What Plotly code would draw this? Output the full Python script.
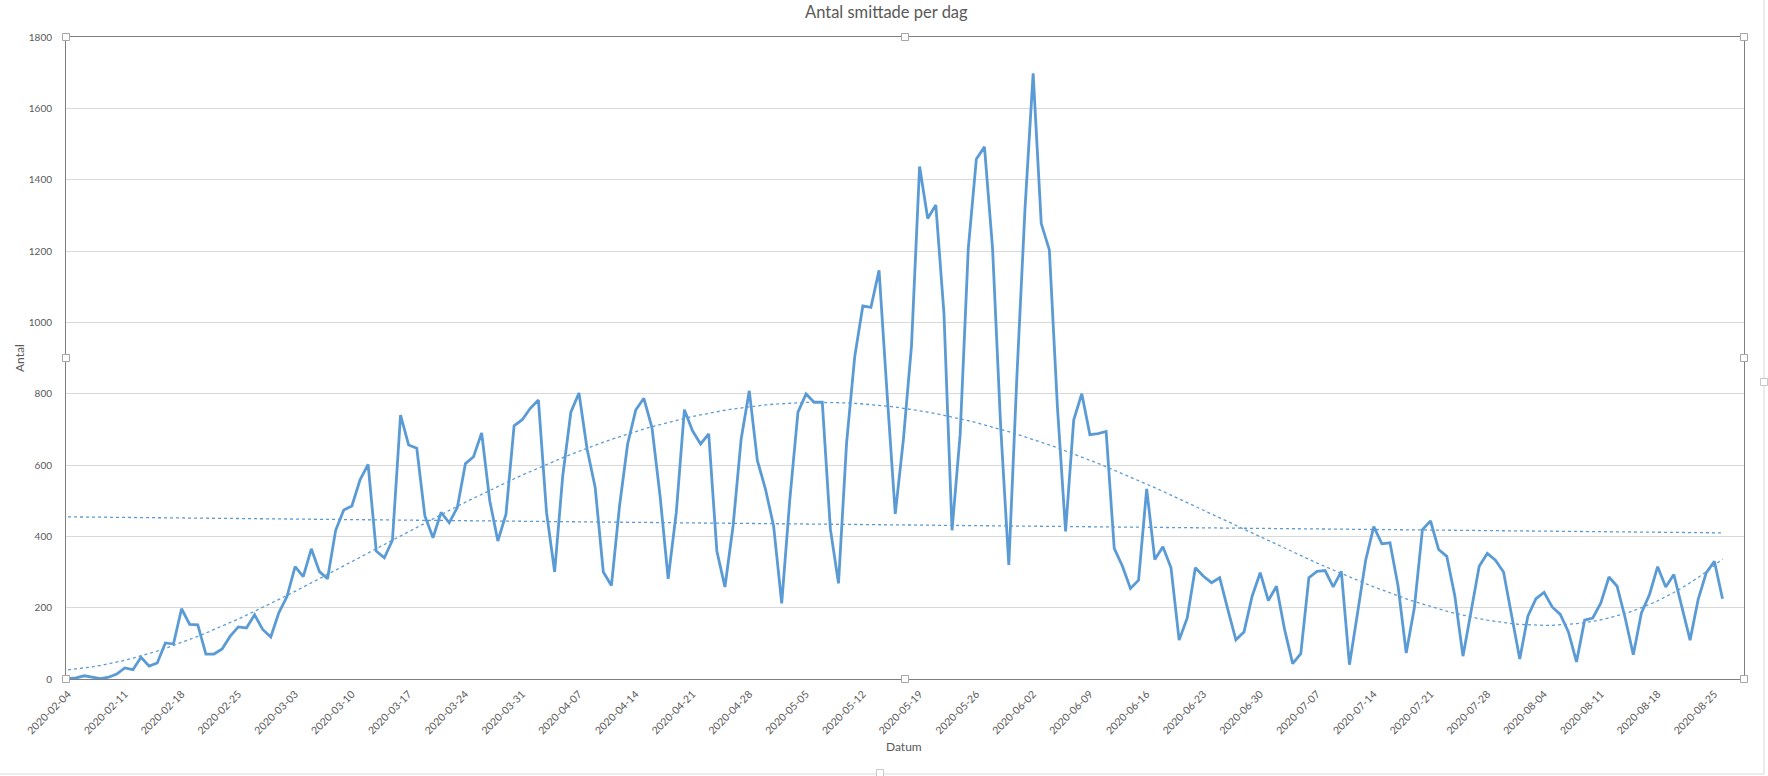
import numpy as np
import pandas as pd
import plotly.graph_objects as go

# ---------------- data ----------------
start_date = "2020-02-04"
cases = [
    1, 3, 9, 4, 1, 5, 14, 31, 26, 61, 36, 45, 101, 98, 197, 153, 152, 70, 70, 84,
    120, 146, 143, 180, 139, 118, 186, 231, 315, 287, 365, 301, 281, 417, 474, 485,
    558, 602, 359, 340, 389, 740, 656, 647, 457, 396, 467, 438, 481, 604, 623, 690,
    500, 387, 462, 710, 727, 759, 782, 467, 300, 570, 748, 802, 645, 537, 300, 262,
    485, 659, 754, 787, 705, 513, 281, 467, 755, 696, 659, 687, 359, 258, 429, 673,
    808, 612, 532, 429, 212, 504, 748, 799, 776, 776, 420, 268, 663, 904, 1046, 1042,
    1146, 797, 463, 671, 934, 1437, 1291, 1329, 1026, 417, 685, 1206, 1458, 1492, 1206,
    706, 320, 850, 1320, 1698, 1277, 1203, 760, 414, 726, 800, 685, 688, 694, 366, 317,
    254, 277, 533, 335, 371, 312, 109, 171, 312, 288, 270, 284, 195, 110, 132, 232,
    298, 220, 260, 139, 43, 71, 284, 302, 304, 258, 302, 40, 185, 333, 427, 379, 382,
    260, 73, 199, 419, 443, 363, 344, 232, 64, 190, 316, 352, 333, 300, 176, 56, 176,
    225, 243, 202, 181, 132, 48, 165, 171, 213, 286, 260, 171, 68, 185, 237, 315, 258,
    293, 202, 109, 223, 298, 330, 225,
]
dates = pd.date_range(start_date, periods=len(cases), freq="D")
tick_dates = pd.date_range(start_date, "2020-08-25", freq="7D")
tick_labels = [d.strftime("%Y-%m-%d") for d in tick_dates]

# trend lines (as Excel computes them: least squares fits of the series)
k = np.arange(len(cases))
lin = np.polyval(np.polyfit(k, cases, 1), k)
poly = np.polyval(np.polyfit(k, cases, 4), k)

BLUE = "#5B9BD5"
TXT = "#595959"
FONT = "Lato, 'Open Sans', sans-serif"

W, H = 1768, 776
L, R, T, B = 66, 24, 37, 97
pw, ph = W - L - R, H - T - B

fig = go.Figure()
fig.add_trace(go.Scatter(x=dates, y=lin, mode="lines",
                         line=dict(color=BLUE, width=1.3, dash="dot"),
                         hoverinfo="skip", showlegend=False))
fig.add_trace(go.Scatter(x=dates, y=poly, mode="lines",
                         line=dict(color=BLUE, width=1.3, dash="dot"),
                         hoverinfo="skip", showlegend=False))
fig.add_trace(go.Scatter(x=dates, y=cases, mode="lines",
                         line=dict(color=BLUE, width=2.8),
                         name="Antal", showlegend=False))

x0 = pd.Timestamp(start_date) - pd.Timedelta(hours=6)
x1 = pd.Timestamp(start_date) + pd.Timedelta(days=206.65)

fig.update_layout(
    width=W, height=H,
    margin=dict(l=L, r=R, t=T, b=B, pad=0),
    paper_bgcolor="white", plot_bgcolor="white",
    font=dict(family=FONT, color=TXT, size=11),
    showlegend=False,
    xaxis=dict(type="date", range=[x0, x1], tickmode="array",
               tickvals=tick_dates, ticktext=tick_labels, tickangle=-45,
               showgrid=False, zeroline=False, showline=True,
               linecolor="#7f7f7f", linewidth=1, mirror=True,
               ticks="", ticklabelstandoff=4,
               tickfont=dict(size=10.5, color=TXT, family=FONT)),
    yaxis=dict(range=[0, 1800], dtick=200, tick0=0,
               showgrid=True, gridcolor="#d9d9d9", gridwidth=1,
               zeroline=False, showline=True, linecolor="#7f7f7f",
               linewidth=1, mirror=True, ticks="", ticklabelstandoff=11,
               tickfont=dict(size=10, color=TXT, family=FONT)),
)

def py(ypix):
    return (H - B - ypix) / ph

def px(xpix):
    return (xpix - L) / pw

annotations = [
    dict(text="Antal smittade per dag", x=px(886), y=py(12), xref="paper", yref="paper",
         showarrow=False, font=dict(size=16.5, color=TXT, family=FONT),
         xanchor="center", yanchor="middle"),
    dict(text="Antal", x=px(19), y=py(358), xref="paper", yref="paper",
         showarrow=False, textangle=-90, font=dict(size=12, color=TXT, family=FONT),
         xanchor="center", yanchor="middle"),
    dict(text="Datum", x=px(904), y=py(746), xref="paper", yref="paper",
         showarrow=False, font=dict(size=12, color=TXT, family=FONT),
         xanchor="center", yanchor="middle"),
]
fig.update_layout(annotations=annotations)

shapes = []
# chart area border (right and bottom visible)
shapes.append(dict(type="line", xref="paper", yref="paper",
                   x0=px(1764), x1=px(1764), y0=py(0), y1=py(774),
                   line=dict(color="#d9d9d9", width=1)))
shapes.append(dict(type="line", xref="paper", yref="paper",
                   x0=px(0), x1=px(1764), y0=py(774), y1=py(774),
                   line=dict(color="#d9d9d9", width=1)))
# selection handles of the plot area
for hx in (0, 0.5, 1):
    for hy in (0, 0.5, 1):
        if hx == 0.5 and hy == 0.5:
            continue
        shapes.append(dict(type="rect", xref="paper", yref="paper",
                           xsizemode="pixel", ysizemode="pixel",
                           xanchor=hx, yanchor=hy, x0=-3.5, x1=3.5, y0=-3.5, y1=3.5,
                           fillcolor="white", line=dict(color="#a6a6a6", width=1),
                           layer="above"))
# handles of the chart area
for hxp, hyp in ((1764, 382), (880, 773)):
    shapes.append(dict(type="rect", xref="paper", yref="paper",
                       xsizemode="pixel", ysizemode="pixel",
                       xanchor=px(hxp), yanchor=py(hyp), x0=-3.5, x1=3.5, y0=-3.5, y1=3.5,
                       fillcolor="white", line=dict(color="#c8c8c8", width=1),
                       layer="above"))
fig.update_layout(shapes=shapes)

fig.write_html(
    "out.html",
    config={"displayModeBar": False},
    post_script="document.body.style.margin='0';document.body.style.overflow='hidden';",
)
